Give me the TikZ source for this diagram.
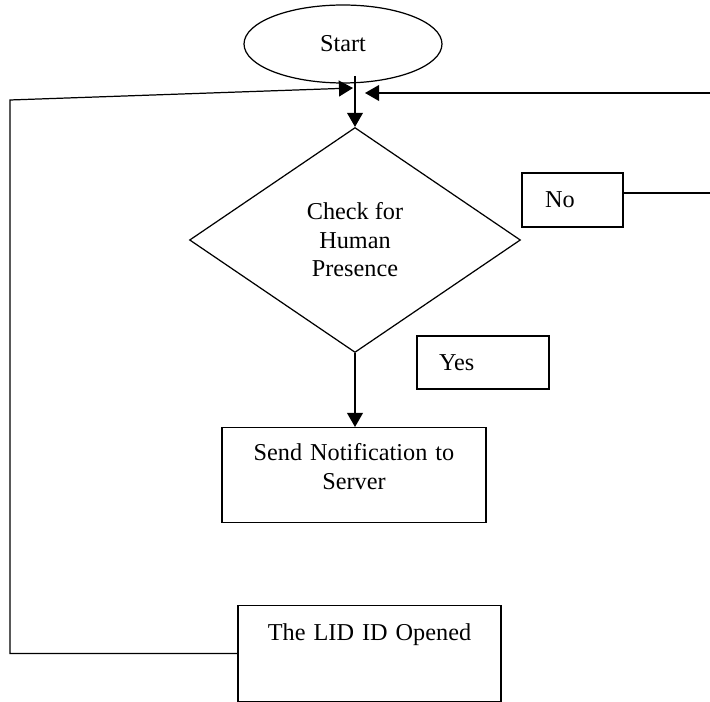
\documentclass[tikz,border=0pt]{standalone}
\usepackage{fontspec}
\setmainfont{Liberation Serif}
\usetikzlibrary{shapes.geometric,arrows.meta}
\begin{document}
\begin{tikzpicture}[x=0.02cm,y=-0.02cm,line width=0.7pt,
        font=\fontsize{13.8}{16.2}\selectfont,
        blk/.style={draw,rectangle,inner sep=0pt},
        arr/.style={-{Triangle[length=8pt,width=9pt]}}]
        \useasboundingbox (0,0) rectangle (710,702);
        \clip (0,0) rectangle (710,702);
        \node[draw,ellipse,minimum width=3.96cm,minimum height=1.56cm] (start) at (343,44) {Start};
        \node[draw,diamond,minimum width=6.62cm,minimum height=4.5cm,align=center,inner sep=0pt] (check) at (355,240) {Check for\\Human\\Presence};
        \node[blk,text width=1.1cm,inner xsep=0.46cm,minimum height=1.08cm,align=left] (no) at (572.5,200) {No};
        \node[blk,text width=1.76cm,inner xsep=0.44cm,minimum height=1.06cm,align=left] (yes) at (483,362.5) {Yes};
        \node[blk,text width=5.28cm,align=center,text height=0.66cm,text depth=1.24cm,anchor=north] (send) at (354,427) {Send Notification to\\Server};
        \node[blk,text width=5.26cm,align=center,text height=0.7cm,text depth=1.22cm,anchor=north] (lid) at (369.5,605) {The LID ID Opened};
        \coordinate (jn) at (355,76);
        \coordinate (lp) at (10,100);
        \coordinate (lt) at (353,88);
        \coordinate (rp) at (716,93);
        \coordinate (rt) at (365,93);
        \draw[arr] (jn) -- (check.north);
        \draw[arr] (check.south) -- (check.south |- send.north);
        \draw[arr] (lid.west) -| (lp) -- (lt);
        \draw[arr] ([yshift=0.14cm]no.east) -| (rp) -- (rt);
\end{tikzpicture}
\end{document}
